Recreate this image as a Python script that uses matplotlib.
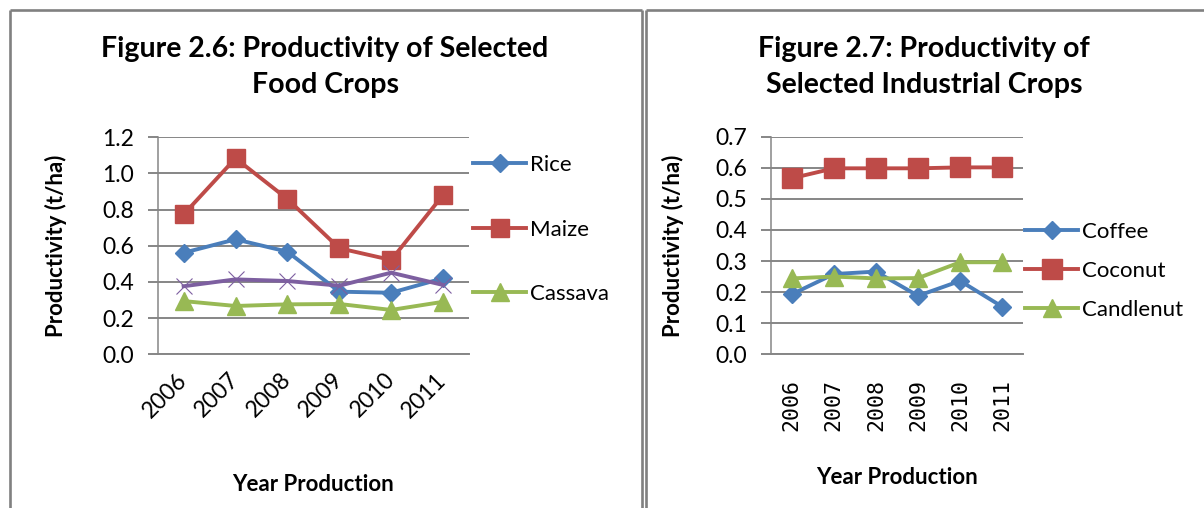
import matplotlib
matplotlib.use('Agg')
import matplotlib.pyplot as plt
from matplotlib.lines import Line2D

plt.rcParams['font.family'] = ['Lato', 'DejaVu Sans']

# data
years = ['2006', '2007', '2008', '2009', '2010', '2011']

rice = [0.561, 0.635, 0.567, 0.346, 0.340, 0.420]
maize = [0.773, 1.083, 0.858, 0.586, 0.521, 0.880]
cassava = [0.294, 0.267, 0.276, 0.278, 0.245, 0.290]
other_food = [0.376, 0.414, 0.405, 0.379, 0.451, 0.383]  # 4th series, no legend entry shown

coffee = [0.193, 0.258, 0.266, 0.188, 0.236, 0.153]
coconut = [0.566, 0.598, 0.598, 0.598, 0.601, 0.601]
candlenut = [0.244, 0.250, 0.244, 0.245, 0.296, 0.296]

BLUE = '#4A7EBB'
RED = '#BE4B48'
GREEN = '#98B954'
PURPLE = '#7D5FA0'
GRID = '#868686'

W, H = 1204, 508
fig = plt.figure(figsize=(W / 100, H / 100), dpi=100)


def px(x, y):
    return x / W, 1 - y / H


def frame_line(x0, y0, x1, y1):
    (a, b), (c, d) = px(x0, y0), px(x1, y1)
    fig.add_artist(Line2D([a, c], [b, d], transform=fig.transFigure,
                          color='#808080', lw=1.9, solid_capstyle='butt'))


# panel borders
frame_line(9.7, 9.5, 642, 9.5)
frame_line(9.7, 9.5, 9.7, 508)
frame_line(641.5, 9.5, 641.5, 508)
frame_line(645.5, 9.5, 1204, 9.5)
frame_line(645.5, 9.5, 645.5, 508)


def style_axes(ax, ymax, step):
    x = list(range(len(years)))
    ax.set_xlim(-0.5, len(years) - 0.5)
    ax.set_ylim(0, ymax)
    ticks = [round(i * step, 2) for i in range(int(round(ymax / step)) + 1)]
    ax.set_yticks(ticks)
    ax.set_yticklabels(['%.1f' % t for t in ticks], fontsize=16.5)
    ax.set_xticks(x)
    ax.yaxis.grid(True, color=GRID, lw=1.4)
    ax.set_axisbelow(True)
    for s in ['top', 'right']:
        ax.spines[s].set_visible(False)
    ax.spines['left'].set_color(GRID)
    ax.spines['left'].set_linewidth(1.1)
    ax.spines['bottom'].set_color(GRID)
    ax.spines['bottom'].set_linewidth(1.4)
    ax.tick_params(axis='y', length=7, width=1.4, color=GRID, pad=10)
    ax.tick_params(axis='x', length=0)
    return x


# ---- left chart: food crops
ax1 = fig.add_axes([157.7 / W, 1 - 354.3 / H, 311.3 / W, 217.2 / H])
x = style_axes(ax1, 1.2, 0.2)
h_rice, = ax1.plot(x, rice, color=BLUE, lw=2.8, marker='D', ms=9, label='Rice')
h_maize, = ax1.plot(x, maize, color=RED, lw=2.8, marker='s', ms=13.5, label='Maize')
h_cass, = ax1.plot(x, cassava, color=GREEN, lw=2.8, marker='^', ms=13.5, label='Cassava')
ax1.plot(x, other_food, color=PURPLE, lw=2.8, marker='x', ms=12, mew=0.8)
ax1.set_xticklabels(years, fontsize=16.5, rotation=45, ha='right', va='center',
                    rotation_mode='anchor')
for lab in ax1.get_xticklabels():
    lab.set_y(-0.08)
ax1.set_ylabel('Productivity (t/ha)', fontsize=16, fontweight='bold')
ax1.yaxis.set_label_coords(-0.291, 0.5)
ax1.set_xlabel('Year Production', fontsize=16, fontweight='bold')
ax1.xaxis.set_label_coords(0.5, -0.552)
fig.legend(handles=[h_rice, h_maize, h_cass], loc='center left',
           bbox_to_anchor=px(473, 229.5), frameon=False, fontsize=16,
           handlelength=2.4, handletextpad=0.15, labelspacing=2.0,
           borderpad=0, borderaxespad=0)
fig.text(*px(325, 67), 'Figure 2.6: Productivity of Selected\nFood Crops',
         ha='center', va='center', fontsize=20.5, fontweight='bold', linespacing=1.5)

# ---- right chart: industrial crops
ax2 = fig.add_axes([770.7 / W, 1 - 354.3 / H, 252.6 / W, 217.7 / H])
x = style_axes(ax2, 0.7, 0.1)
h_cof, = ax2.plot(x, coffee, color=BLUE, lw=2.8, marker='D', ms=9, label='Coffee')
h_coc, = ax2.plot(x, coconut, color=RED, lw=2.8, marker='s', ms=14, label='Coconut')
h_can, = ax2.plot(x, candlenut, color=GREEN, lw=2.8, marker='^', ms=13.5, label='Candlenut')
ax2.set_xticklabels(years, fontsize=15.5, rotation=90, family='DejaVu Sans Mono')
ax2.tick_params(axis='x', pad=18)
ax2.set_ylabel('Productivity (t/ha)', fontsize=16, fontweight='bold')
ax2.yaxis.set_label_coords(-0.343, 0.5)
ax2.set_xlabel('Year Production', fontsize=16, fontweight='bold')
ax2.xaxis.set_label_coords(0.5, -0.518)
fig.legend(handles=[h_cof, h_coc, h_can], loc='center left',
           bbox_to_anchor=px(1025, 270.7), frameon=False, fontsize=16,
           handlelength=2.4, handletextpad=0.15, labelspacing=0.85,
           borderpad=0, borderaxespad=0)
fig.text(*px(924, 67), 'Figure 2.7: Productivity of\nSelected Industrial Crops',
         ha='center', va='center', fontsize=20.5, fontweight='bold', linespacing=1.5)

fig.savefig('out.png', dpi=100)
